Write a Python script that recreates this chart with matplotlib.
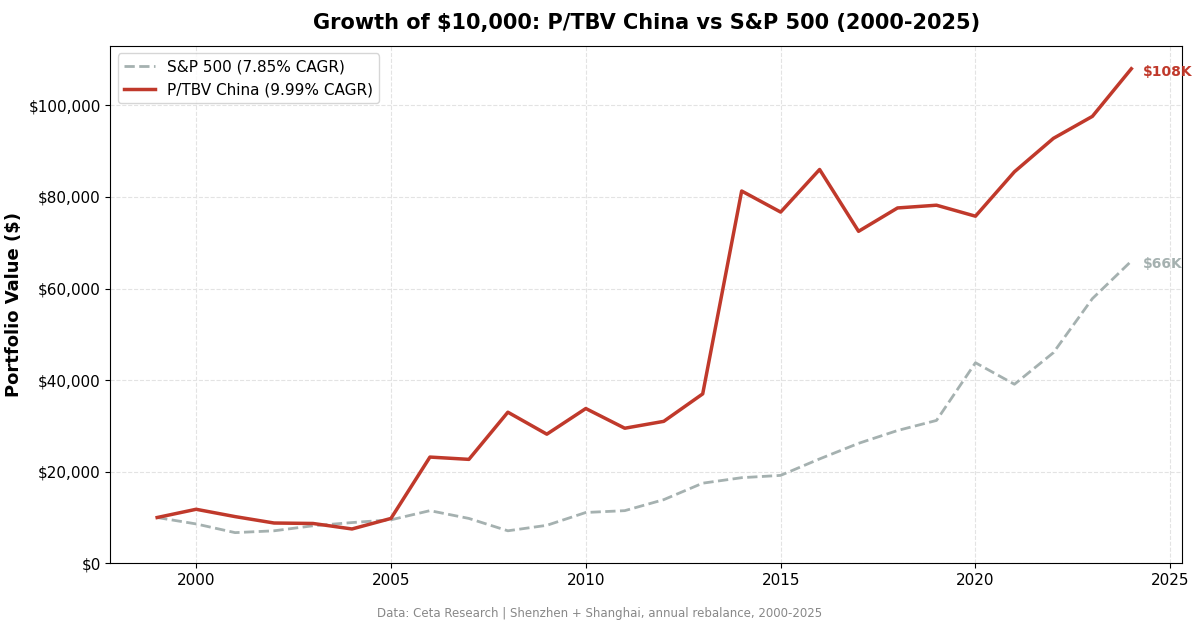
import matplotlib
matplotlib.use("Agg")
import matplotlib.pyplot as plt
from matplotlib.ticker import FuncFormatter

years = list(range(1999, 2025))
ptbv = [10000, 11800, 10200, 8800, 8700, 7500, 9800, 23200, 22700, 33000, 28200, 33800, 29500,
        31000, 37000, 81300, 76700, 86000, 72500, 77600, 78200, 75800, 85500, 92800, 97600, 108000]
spx = [10000, 8600, 6700, 7100, 8200, 8900, 9500, 11500, 9800, 7100, 8300, 11100, 11500,
       13900, 17500, 18700, 19200, 22800, 26200, 29000, 31200, 43800, 39100, 46000, 57800, 66000]

fig = plt.figure(figsize=(12, 6.28), dpi=100)
ax = fig.add_axes([0.092, 0.103, 0.893, 0.824])
ax.plot(years, spx, color="#a5b1b0", lw=2, ls="--", label="S&P 500 (7.85% CAGR)")
ax.plot(years, ptbv, color="#c0392b", lw=2.5, label="P/TBV China (9.99% CAGR)")
ax.set_xlim(1997.8, 2025.3)
ax.set_ylim(0, 113000)
ax.yaxis.set_major_formatter(FuncFormatter(lambda v, p: f"${v:,.0f}"))
ax.grid(True, ls="--", color="#e3e3e3", lw=0.8)
ax.tick_params(labelsize=11)
ax.set_ylabel("Portfolio Value ($)", fontsize=13, fontweight="bold")
ax.set_title("Growth of $10,000: P/TBV China vs S&P 500 (2000-2025)", fontsize=15, fontweight="bold", pad=12)
ax.legend(loc="upper left", fontsize=11)
ax.annotate(f"${ptbv[-1]/1000:.0f}K", (years[-1], ptbv[-1]), xytext=(8, -5), textcoords="offset points",
            color="#c0392b", fontsize=10, fontweight="bold", annotation_clip=False)
ax.annotate(f"${spx[-1]/1000:.0f}K", (years[-1], spx[-1]), xytext=(8, -5), textcoords="offset points",
            color="#a5b1b0", fontsize=10, fontweight="bold", annotation_clip=False)
fig.text(0.5, 0.018, "Data: Ceta Research | Shenzhen + Shanghai, annual rebalance, 2000-2025",
         ha="center", fontsize=8.5, color="#888888")
fig.savefig("out.png")
